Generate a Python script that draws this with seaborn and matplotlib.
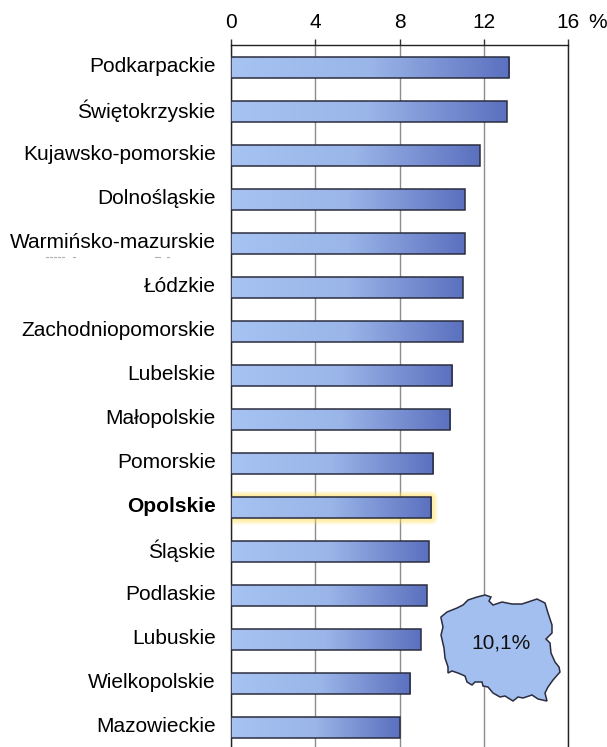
import numpy as np
import pandas as pd
import matplotlib
matplotlib.use('Agg')
import matplotlib.pyplot as plt
import seaborn as sns
from matplotlib.lines import Line2D
from matplotlib.patches import Polygon, Rectangle
from matplotlib.colors import LinearSegmentedColormap
from matplotlib.transforms import Affine2D

regions = ['Podkarpackie', 'Świętokrzyskie', 'Kujawsko-pomorskie', 'Dolnośląskie',
           'Warmińsko-mazurskie', 'Łódzkie', 'Zachodniopomorskie', 'Lubelskie',
           'Małopolskie', 'Pomorskie', 'Opolskie', 'Śląskie', 'Podlaskie',
           'Lubuskie', 'Wielkopolskie', 'Mazowieckie']
values = [13.2, 13.1, 11.8, 11.1, 11.1, 11.0, 11.0, 10.5,
          10.4, 9.6, 9.5, 9.4, 9.3, 9.0, 8.5, 8.0]
x_ticks = [0, 4, 8, 12, 16]
highlight = 'Opolskie'
poland_label = '10,1%'

# outline of the map, in pixels of the picture
map_x = [441, 447, 457, 463, 468, 477, 485, 491, 489, 493, 502, 512, 522, 537, 545, 548, 552, 552,
         546, 550, 551, 555, 559, 560, 553, 548, 545, 547, 538, 532, 523, 518, 513, 505, 500, 493,
         488, 483, 482, 475, 472, 467, 465, 458, 452, 448, 448, 445, 444, 441, 443, 441]
map_y = [617, 612, 608, 605, 600, 597, 595, 597, 601, 605, 602, 604, 604, 599, 603, 613, 625, 633,
         639, 643, 653, 662, 667, 672, 680, 687, 693, 701, 699, 695, 698, 697, 701, 696, 697, 693,
         687, 686, 682, 682, 685, 682, 676, 673, 671, 673, 667, 658, 648, 635, 627, 618]
# leftovers of a cut off label under Warmińsko-mazurskie
scrap_x = [46, 50, 54, 58, 62, 73, 155, 158, 167]

plt.rcParams['font.family'] = ['Liberation Sans', 'DejaVu Sans']
W, H = 607, 747
FS = 15
data = pd.DataFrame({'region': regions, 'value': values})

fig = plt.figure(figsize=(W / 100, H / 100), dpi=100)
ax = fig.add_axes([231 / W, 0, (568 - 231) / W, (H - 45) / H])
sns.barplot(data=data, x='value', y='region', color='#7f97d8', width=0.464,
            edgecolor='#2b2d3f', linewidth=1.1, ax=ax, zorder=3)

# gradient inside the bars
cmap = LinearSegmentedColormap.from_list('bar', ['#a6c3f2', '#9ab5e8', '#5b70bf'])
grad = np.linspace(0, 1, 256).reshape(1, -1)
for bar, name in zip(ax.patches, regions):
    x0, y0, w, h = bar.get_x(), bar.get_y(), bar.get_width(), bar.get_height()
    im = ax.imshow(grad, cmap=cmap, aspect='auto', extent=[x0, x0 + w, y0 + h, y0], zorder=3.5)
    im.set_clip_path(bar)
    bar.set_facecolor('none')
    bar.set_zorder(4)
    if name == highlight:
        # soft glow, stacked so it fades outwards
        for lw in [13, 11.5, 10, 8.5, 7, 5.5, 4, 2.5]:
            ax.add_patch(Rectangle((x0, y0), w, h, fill=False, edgecolor='#ffe04a', alpha=0.09,
                                   linewidth=lw * 0.72, joinstyle='round', zorder=2))
ax.set_xlim(0, 16)
ax.set_ylim(15.443, -0.511)
ax.set_xlabel('')
ax.set_ylabel('')

ax.xaxis.tick_top()
ax.set_xticks(x_ticks)
ax.set_xticklabels([str(t) for t in x_ticks])
ax.tick_params(axis='x', length=4.5, width=1, color='#333333', labelsize=FS, pad=5)
ax.tick_params(axis='y', length=0, labelsize=FS, pad=11)
ax.grid(axis='x', color='#8c8c8c', linewidth=1)
ax.set_axisbelow(True)
for side in ['top', 'left', 'right']:
    ax.spines[side].set_color('#222222')
    ax.spines[side].set_linewidth(1)
ax.spines['bottom'].set_visible(False)
for lab in ax.get_yticklabels():
    lab.set_transform(lab.get_transform() + Affine2D().translate(0, 3))
    if lab.get_text() == highlight:
        lab.set_fontweight('bold')
fig.text(588 / W, 1 - 27.5 / H, '%', fontsize=FS, ha='left', va='baseline')

# map of Poland
to_px = Affine2D().scale(1 / W, -1 / H).translate(0, 1) + fig.transFigure
ax.add_patch(Polygon(np.column_stack([map_x, map_y]), closed=True, facecolor='#a3bfef',
                     edgecolor='#2b2d3f', linewidth=1.1, transform=to_px, zorder=6, clip_on=False))
fig.text(501 / W, 1 - 643 / H, poland_label, fontsize=FS, ha='center', va='center', color='#111111', zorder=7)

for sx in scrap_x:
    fig.add_artist(Line2D([sx, sx + 2], [256.5, 256.5], color='#b0b0b0', linewidth=0.8, transform=to_px))

fig.savefig('out.png', dpi=100)
